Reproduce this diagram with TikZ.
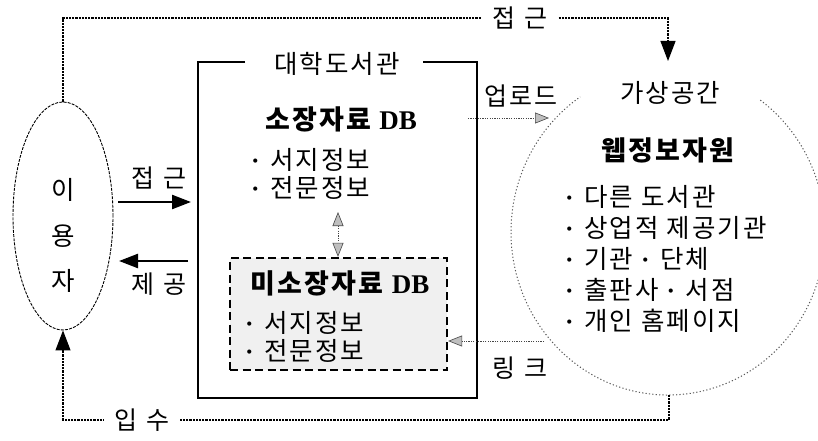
\documentclass[tikz,border=0pt]{standalone}
\usepackage{fontspec}
\setmainfont{Liberation Serif}
\newfontfamily\kr[LetterSpace=8]{Noto Sans CJK KR}
\newcommand\mdot{{\rmfamily\bfseries\char"00B7\hspace{0.42em}}}
\usetikzlibrary{arrows.meta,shapes.geometric}
\tikzset{
  gtip/.tip={Triangle[length=14pt,width=11pt,color=gray!55!black,fill=gray!50,line width=0.6pt]},
  txt/.style={inner sep=0pt, font=\fontsize{25.5}{27}\selectfont\kr},
  btxt/.style={inner sep=0pt, font=\fontsize{27}{29}\selectfont\kr\bfseries},
  lbl/.style={inner sep=0pt, font=\fontsize{25}{27}\selectfont\kr},
  gap/.style={fill=white, inner xsep=10pt, inner ysep=4pt},
  conn/.style={line width=1.1pt, dash pattern=on 2.2pt off 1pt},
  solidarrow/.style={line width=2.4pt, -{Triangle[length=19pt,width=14pt]}},
  blacktip/.style={-{Triangle[length=20pt,width=15pt]}},
  garrow/.style={line width=1pt, gray!55!black, dash pattern=on 1.2pt off 1.2pt, -gtip},
  garrowb/.style={line width=1pt, gray!55!black, dash pattern=on 1.2pt off 1.2pt, gtip-gtip},
  userell/.style={draw, ellipse, line width=0.9pt, dash pattern=on 3pt off 1.2pt, inner sep=0pt},
  dbox/.style={draw, line width=2.3pt, dash pattern=on 8pt off 4.5pt, fill=gray!12, inner sep=0pt},
  circ/.style={line width=1pt, gray!70!black, dash pattern=on 1.2pt off 2.2pt},
  libbox/.style={line width=2pt},
}
\begin{document}
\begin{tikzpicture}[x=1pt,y=-1pt]
\useasboundingbox (0,0) rectangle (818,441);
\begin{scope}
\clip (0,0) rectangle (818,441);

% user ellipse
\node[userell, minimum width=100pt, minimum height=228pt] (user) at (63,216) {};
\node[txt] (u1) at (63,190) {이};
\node[txt] (u2) at (63,236) {용};
\node[txt] (u3) at (63,281) {자};

% university library box
\node[txt] (lib) at (337,64) {대학도서관};
\coordinate (bl1) at (245,62);
\coordinate (br1) at (423,62);
\draw[libbox] (bl1) -| (198,398) -| (477,62) -- (br1);

\node[btxt] (hdb) at (341,119) {소장자료 {\rmfamily DB}};
\node[txt, anchor=west] (h1) at (251,160) {\mdot 서지정보};
\node[txt, anchor=west] (h2) at (251,188) {\mdot 전문정보};

\node[dbox, minimum width=217pt, minimum height=112pt] (ndb) at (338.5,314) {};
\node[btxt] (ndbt) at (340,283) {미소장자료 {\rmfamily DB}};
\node[txt, anchor=west] (n1) at (245,323) {\mdot 서지정보};
\node[txt, anchor=west] (n2) at (245,351) {\mdot 전문정보};

\coordinate (da) at (338,212);
\draw[garrowb] (da) -- (ndb.north -| da);

% user <-> library
\coordinate (a1) at (118,202);
\coordinate (a2) at (191,202);
\draw[solidarrow] (a1) -- (a2);
\node[lbl] (lacc) at (159,178) {접\hspace{0.4em}근};
\coordinate (p1) at (188,261);
\coordinate (p2) at (119,261);
\draw[solidarrow] (p1) -- (p2);
\node[lbl] (lprov) at (159,284) {제\hspace{0.4em}공};

% virtual space circle
\coordinate (cc) at (668,232);
\draw[circ] ([shift={(-54:157 and 163)}]cc) arc[start angle=-54, end angle=236, x radius=157, y radius=163];
\node[txt] (vs) at (670,93) {가상공간};
\node[btxt] (web) at (668,150) {웹정보자원};
\node[txt, anchor=west] (w1) at (565,197) {\mdot 다른 도서관};
\node[txt, anchor=west] (w2) at (565,228) {\mdot 상업적 제공기관};
\node[txt, anchor=west] (w3) at (565,259) {\mdot 기관\hspace{0.3em}\mdot 단체};
\node[txt, anchor=west] (w4) at (565,290) {\mdot 출판사\hspace{0.3em}\mdot 서점};
\node[txt, anchor=west] (w5) at (565,321) {\mdot 개인 홈페이지};

% upload
\node[lbl] (lup) at (521,96) {업로드};
\coordinate (u0) at (468,118);
\coordinate (ut) at (549,118);
\draw[garrow] (u0) -- (ut);

% link
\coordinate (lk0) at (544,341);
\draw[garrow] (lk0) -- (ndb.east |- lk0);
\node[lbl] (llink) at (520,368) {링\hspace{0.4em}크};

% top access
\coordinate (tc) at (668,18);
\coordinate (tt) at (668,61);
\draw[conn] (user.north) |- (tc) -- ([yshift=19pt]tt);
\draw[blacktip, line width=1.1pt] ([yshift=20pt]tt) -- (tt);
\node[lbl, gap] (ltop) at (520,18) {접\hspace{0.4em}근};

% bottom acquisition
\coordinate (cb) at (669,395);
\coordinate (bc) at (669,420);
\draw[conn] (cb) -- (bc) -| ([yshift=-19pt]user.south);
\draw[blacktip, line width=1.1pt] ([yshift=-20pt]user.south) -- (user.south);
\node[lbl, gap] (lbot) at (142,420) {입\hspace{0.4em}수};
\end{scope}
\end{tikzpicture}
\end{document}
